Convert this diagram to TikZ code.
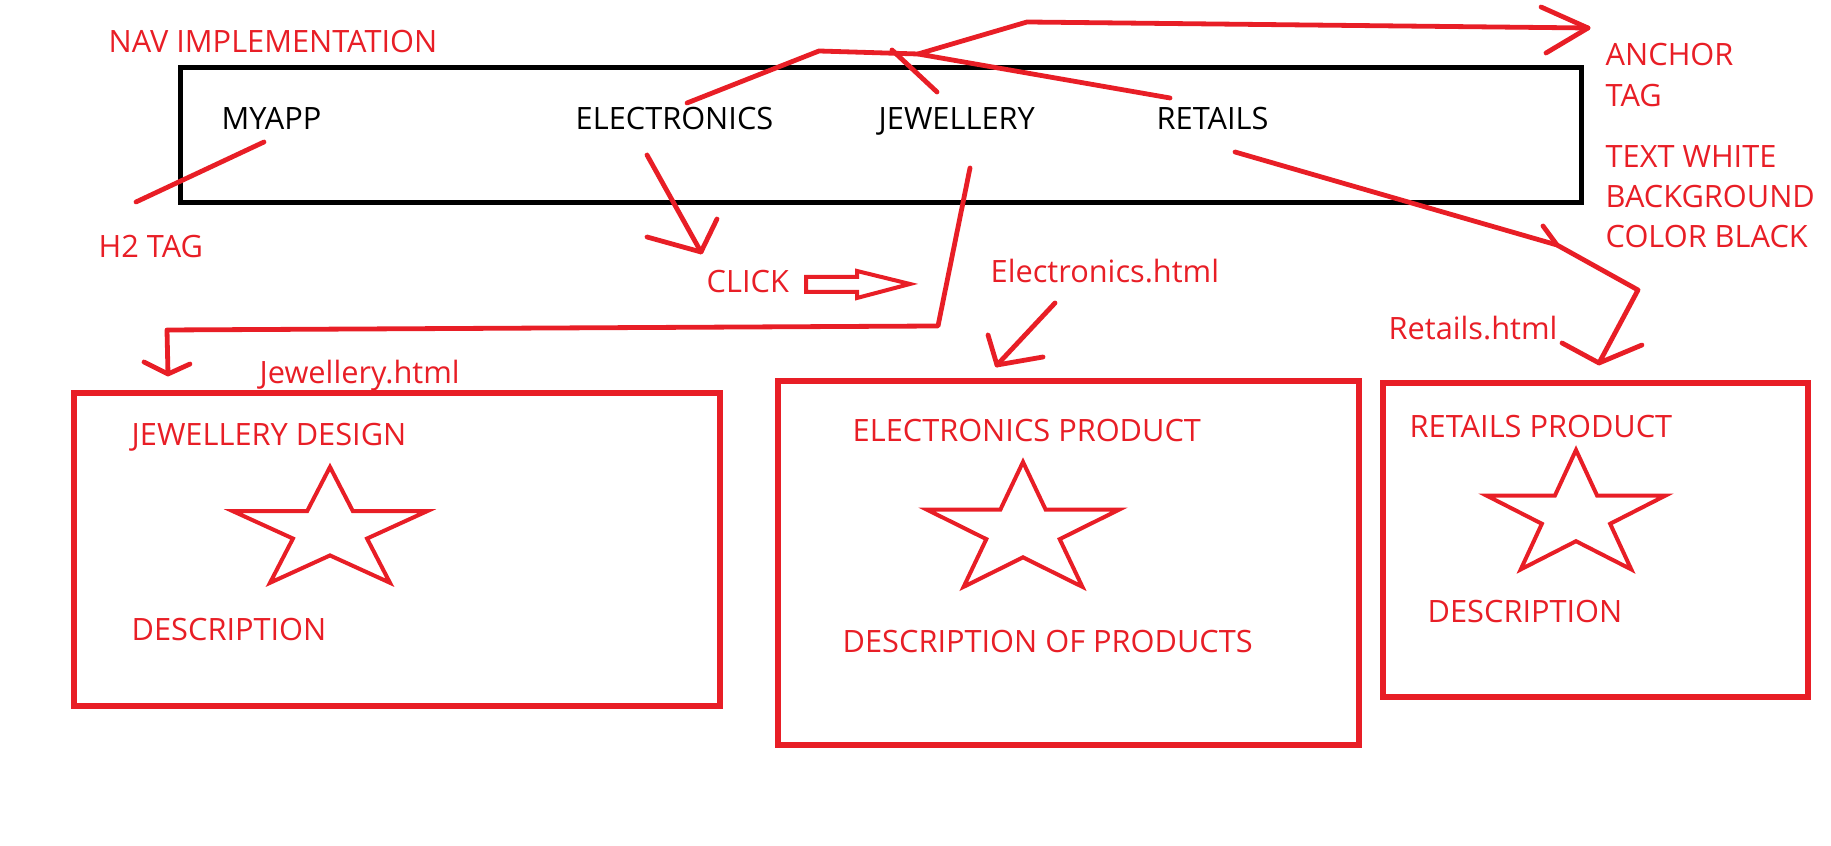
\documentclass[tikz,border=0pt]{standalone}
\usepackage{fontspec}
\setmainfont{Open Sans}
\definecolor{paintred}{RGB}{232,30,38}
% star drawn in a box: centre x, centre y, x radius, y radius
\newcommand{\prodstar}[4]{%
  \begin{scope}[shift={(#1,#2)},xscale=#3,yscale=#4]
    \draw[starline] (-90:1) \foreach \k in {0,...,3} { -- (-54+72*\k:0.382) -- (-18+72*\k:1) } -- (234:0.382) -- cycle;
  \end{scope}}

\begin{document}
\begin{tikzpicture}[x=0.1mm,y=-0.1mm,
    lbl/.style={anchor=base west,inner sep=0pt,text=paintred,font=\fontsize{8.75pt}{10pt}\selectfont},
    navlbl/.style={lbl,text=black},
    redline/.style={draw=paintred,line width=0.48mm,line cap=round,line join=round},
    pagebox/.style={draw=paintred,line width=0.52mm},
    starline/.style={draw=paintred,line width=0.4mm}]
  \useasboundingbox (0,0) rectangle (1831,846);
  % nav bar
  \draw[line width=0.5mm] (180,68) rectangle (1581,203);
  \draw
    (221,130) node[navlbl] (myapp) {MYAPP}
    (575,130) node[navlbl] (electronics) {ELECTRONICS}
    (878,130) node[navlbl] (jewellery) {JEWELLERY}
    (1156,130) node[navlbl] (retails) {RETAILS};
  % notes
  \draw
    (108,53) node[lbl] (navtitle) {NAV IMPLEMENTATION}
    (98,258) node[lbl] (h2tag) {H2 TAG}
    (1605,66) node[lbl] (anchor) {ANCHOR}
    (1605,107) node[lbl] (tag) {TAG}
    (1605,168) node[lbl] (textwhite) {TEXT WHITE}
    (1605,208) node[lbl] (background) {BACKGROUND}
    (1605,248) node[lbl] (colorblack) {COLOR BLACK}
    (706,293) node[lbl] (click) {CLICK}
    (990,283) node[lbl] (elechtml) {Electronics.html}
    (1388,340) node[lbl] (retailhtml) {Retails.html}
    (259,384) node[lbl] (jewelhtml) {Jewellery.html};
  % pages
  \draw[pagebox] (74,393) rectangle (720,706);
  \draw[pagebox] (778,381) rectangle (1359,745);
  \draw[pagebox] (1383,383) rectangle (1808,697);
  \draw
    (131,446) node[lbl] (jdesign) {JEWELLERY DESIGN}
    (131,641) node[lbl] (jdesc) {DESCRIPTION}
    (852,442) node[lbl] (eproduct) {ELECTRONICS PRODUCT}
    (842,653) node[lbl] (edesc) {DESCRIPTION OF PRODUCTS}
    (1409,438) node[lbl] (rproduct) {RETAILS PRODUCT}
    (1427,623) node[lbl] (rdesc) {DESCRIPTION};
  \prodstar{330}{531}{102}{64}
  \prodstar{1023}{531}{101}{69}
  \prodstar{1576}{516}{94}{66}
  % pointer ends
  \coordinate (h2a) at (264,142);
  \coordinate (h2b) at (136,202);
  \coordinate (ec0) at (647,155);
  \coordinate (ectip) at (701,252);
  \coordinate (ecw1) at (647,237);
  \coordinate (ecw2) at (717,219);
  \coordinate (jl0) at (970,168);
  \coordinate (jl1) at (938,326);
  \coordinate (jl2) at (167,330);
  \coordinate (jltip) at (168,374);
  \coordinate (jlw1) at (144,362);
  \coordinate (jlw2) at (190,364);
  \coordinate (eh0) at (1055,303);
  \coordinate (ehtip) at (997,365);
  \coordinate (ehw1) at (988,335);
  \coordinate (ehw2) at (1043,357);
  \coordinate (rl0) at (1235,152);
  \coordinate (rlmid) at (1557,245);
  \coordinate (rlmw) at (1543,226);
  \coordinate (rl1) at (1638,290);
  \coordinate (rltip) at (1599,363);
  \coordinate (rlw1) at (1562,343);
  \coordinate (rlw2) at (1642,345);
  \coordinate (ap0) at (687,103);
  \coordinate (apk) at (819,51);
  \coordinate (apj) at (918,54);
  \coordinate (jp0) at (892,50);
  \coordinate (jp1) at (937,92);
  \coordinate (rp0) at (1170,98);
  \coordinate (at0) at (1027,22);
  \coordinate (attip) at (1588,28);
  \coordinate (atw1) at (1541,7);
  \coordinate (atw2) at (1546,53);
  \begin{scope}[redline]
    \draw (h2a) to (h2b);
    \draw (ec0) to (ectip);
    \draw (ecw1) to (ectip) to (ecw2);
    \draw (jl0) to (jl1) to (jl2) to (jltip);
    \draw (jlw1) to (jltip) to (jlw2);
    \draw (eh0) to (ehtip);
    \draw (ehw1) to (ehtip) to (ehw2);
    \draw (rl0) to (rlmid) to (rl1) to (rltip);
    \draw (rlmw) to (rlmid);
    \draw (rlw1) to (rltip) to (rlw2);
    \draw (ap0) to (apk) to (apj);
    \draw (jp0) to (jp1);
    \draw (rp0) to (apj) to (at0) to (attip);
    \draw (atw1) to (attip) to (atw2);
  \end{scope}
  % click block arrow
  \draw[redline,line width=0.4mm,line join=miter] (806,277) -- (857,277) -- (857,271) -- (910,284)
    -- (857,298) -- (857,292) -- (806,292) -- cycle;
\end{tikzpicture}
\end{document}
